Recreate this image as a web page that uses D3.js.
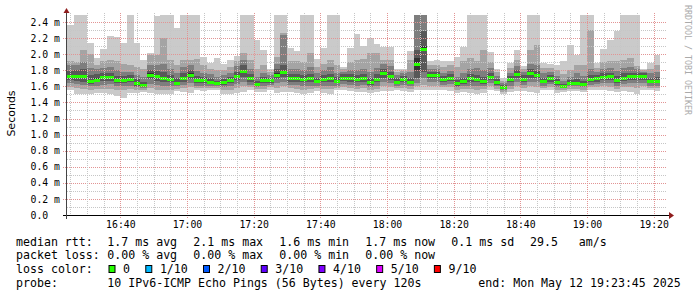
<!DOCTYPE html>
<meta charset="utf-8">
<style>
 body { margin: 0; background: #fff; }
 svg { display: block; }
 text { font-family: "DejaVu Sans Mono", monospace; fill: #000; }
 .axis text { font-size: 9.8px; }
 .legend text { font-size: 11.6px; white-space: pre; }
</style>
<body>
<div id="chart"></div>
<script src="https://cdn.jsdelivr.net/npm/d3@7/dist/d3.min.js"></script>
<script>
(function(){

  // 2 minute steps starting 16:24, 10 pings per step (sorted, ms)
  var start = new Date(2025, 4, 12, 16, 24);
  var end = new Date(2025, 4, 12, 19, 24);

  var medians = [
    1.725,1.725,1.725,1.667,1.683,1.716,1.716,1.675,1.68,1.696,
    1.64,1.62,1.745,1.725,1.708,1.69,1.646,1.71,1.745,1.675,
    1.675,1.66,1.636,1.655,1.68,1.73,1.79,1.70,1.63,1.675,
    1.675,1.745,1.78,1.70,1.705,1.69,1.70,1.667,1.69,1.70,
    1.67,1.71,1.70,1.69,1.705,1.655,1.69,1.77,1.73,1.66,
    1.69,1.66,1.875,2.07,1.737,1.737,1.69,1.71,1.64,1.667,
    1.70,1.69,1.667,1.72,1.655,1.59,1.69,1.755,1.695,1.76,
    1.74,1.667,1.70,1.65,1.605,1.64,1.645,1.63,1.69,1.70,
    1.716,1.725,1.68,1.71,1.725,1.73,1.73,1.67,1.67
  ];

  var pings = [
    [1.55,1.59,1.64,1.68,1.71,1.74,1.79,1.86,1.92,2.36],
    [1.50,1.58,1.63,1.67,1.71,1.74,1.80,1.86,1.90,2.60],
    [1.50,1.57,1.62,1.66,1.71,1.74,1.81,1.90,2.05,2.60],
    [1.50,1.56,1.60,1.63,1.65,1.68,1.74,1.83,2.00,2.14],
    [1.52,1.57,1.61,1.65,1.67,1.70,1.75,1.82,1.87,1.95],
    [1.52,1.57,1.62,1.67,1.70,1.73,1.77,1.83,1.91,2.06],
    [1.51,1.57,1.63,1.67,1.70,1.73,1.77,1.84,1.93,2.23],
    [1.48,1.56,1.60,1.64,1.66,1.69,1.73,1.80,1.91,2.21],
    [1.46,1.55,1.60,1.64,1.67,1.69,1.73,1.78,1.88,2.14],
    [1.52,1.57,1.61,1.65,1.68,1.71,1.74,1.78,1.86,2.60],
    [1.52,1.56,1.59,1.61,1.63,1.65,1.69,1.74,1.84,2.14],
    [1.53,1.56,1.58,1.60,1.61,1.63,1.66,1.72,1.82,1.93],
    [1.52,1.58,1.63,1.69,1.73,1.76,1.80,1.86,1.99,2.01],
    [1.50,1.56,1.62,1.67,1.71,1.74,1.79,1.86,1.99,2.47],
    [1.50,1.56,1.61,1.66,1.69,1.72,1.78,1.88,2.20,2.60],
    [1.51,1.56,1.61,1.65,1.68,1.70,1.74,1.82,1.93,2.60],
    [1.54,1.57,1.60,1.62,1.64,1.66,1.70,1.76,1.86,2.32],
    [1.53,1.58,1.62,1.66,1.70,1.72,1.76,1.84,1.93,2.60],
    [1.52,1.59,1.64,1.69,1.73,1.76,1.80,1.86,1.93,2.60],
    [1.55,1.58,1.61,1.64,1.66,1.69,1.73,1.79,1.94,2.60],
    [1.54,1.58,1.61,1.64,1.66,1.69,1.72,1.76,1.86,1.97],
    [1.55,1.58,1.61,1.63,1.65,1.67,1.70,1.75,1.82,1.89],
    [1.55,1.58,1.60,1.62,1.63,1.645,1.67,1.72,1.80,1.95],
    [1.51,1.56,1.59,1.62,1.645,1.665,1.69,1.74,1.80,1.88],
    [1.50,1.56,1.60,1.64,1.67,1.69,1.72,1.77,1.84,1.93],
    [1.52,1.58,1.63,1.68,1.72,1.74,1.78,1.85,1.91,1.98],
    [1.53,1.60,1.66,1.72,1.78,1.80,1.86,1.93,2.01,2.60],
    [1.55,1.59,1.62,1.66,1.69,1.71,1.75,1.82,1.93,2.60],
    [1.53,1.57,1.59,1.61,1.62,1.64,1.67,1.72,1.81,2.18],
    [1.53,1.57,1.61,1.64,1.665,1.685,1.72,1.77,1.86,2.05],
    [1.56,1.59,1.62,1.64,1.665,1.685,1.71,1.74,1.78,1.82],
    [1.52,1.58,1.64,1.69,1.73,1.76,1.81,1.88,1.97,2.60],
    [1.53,1.60,1.66,1.72,1.77,1.79,1.87,2.24,2.26,2.60],
    [1.53,1.58,1.62,1.66,1.69,1.71,1.75,1.82,1.92,2.08],
    [1.52,1.57,1.62,1.66,1.695,1.715,1.75,1.81,1.91,2.04],
    [1.50,1.56,1.61,1.65,1.68,1.70,1.74,1.80,1.90,2.60],
    [1.52,1.57,1.61,1.65,1.69,1.71,1.75,1.84,2.02,2.60],
    [1.54,1.58,1.61,1.64,1.655,1.68,1.71,1.76,1.84,1.94],
    [1.52,1.57,1.61,1.65,1.68,1.70,1.74,1.80,1.88,2.08],
    [1.51,1.57,1.61,1.65,1.69,1.71,1.75,1.84,1.93,2.60],
    [1.55,1.58,1.61,1.64,1.66,1.68,1.72,1.77,1.86,2.60],
    [1.55,1.59,1.63,1.67,1.70,1.72,1.75,1.78,1.81,1.845],
    [1.54,1.58,1.62,1.66,1.69,1.71,1.75,1.80,1.90,2.08],
    [1.53,1.57,1.61,1.65,1.68,1.70,1.74,1.80,1.93,2.25],
    [1.53,1.58,1.62,1.66,1.695,1.715,1.75,1.82,1.94,2.10],
    [1.52,1.56,1.59,1.62,1.645,1.665,1.70,1.78,2.01,2.20],
    [1.53,1.57,1.61,1.65,1.68,1.70,1.75,1.83,2.01,2.13],
    [1.54,1.60,1.66,1.71,1.76,1.78,1.82,1.88,1.93,2.09],
    [1.54,1.59,1.64,1.68,1.72,1.74,1.78,1.85,1.93,2.09],
    [1.55,1.58,1.61,1.63,1.65,1.67,1.70,1.74,1.78,1.82],
    [1.54,1.58,1.62,1.65,1.68,1.70,1.73,1.76,1.79,1.82],
    [1.53,1.57,1.60,1.63,1.65,1.67,1.71,1.78,1.93,2.04],
    [1.55,1.60,1.64,1.70,1.80,1.95,2.05,2.60,2.60,2.60],
    [1.56,1.62,1.70,1.78,2.04,2.10,2.29,2.60,2.60,2.60],
    [1.56,1.61,1.66,1.70,1.725,1.75,1.78,1.82,1.86,1.91],
    [1.55,1.60,1.65,1.70,1.725,1.75,1.78,1.82,1.87,1.93],
    [1.55,1.59,1.62,1.65,1.68,1.70,1.73,1.77,1.84,1.92],
    [1.54,1.59,1.63,1.67,1.70,1.72,1.75,1.79,1.86,1.91],
    [1.52,1.56,1.59,1.61,1.63,1.65,1.68,1.72,1.84,1.96],
    [1.53,1.57,1.60,1.63,1.655,1.68,1.71,1.77,1.92,2.09],
    [1.52,1.57,1.61,1.65,1.69,1.71,1.75,1.82,1.95,2.60],
    [1.51,1.56,1.61,1.65,1.68,1.70,1.74,1.83,1.92,2.60],
    [1.52,1.57,1.60,1.63,1.655,1.68,1.72,1.80,2.05,2.60],
    [1.55,1.60,1.64,1.68,1.71,1.73,1.77,1.83,1.90,2.03],
    [1.54,1.57,1.60,1.62,1.645,1.665,1.69,1.73,1.78,1.82],
    [1.50,1.53,1.55,1.57,1.58,1.60,1.62,1.64,1.67,1.70],
    [1.53,1.57,1.61,1.65,1.68,1.70,1.73,1.77,1.83,1.89],
    [1.54,1.60,1.66,1.71,1.745,1.765,1.80,1.85,1.93,2.05],
    [1.54,1.58,1.62,1.66,1.685,1.705,1.74,1.78,1.82,1.85],
    [1.53,1.60,1.66,1.71,1.75,1.77,1.81,1.88,2.05,2.60],
    [1.52,1.59,1.65,1.70,1.73,1.75,1.79,1.87,2.11,2.60],
    [1.55,1.58,1.61,1.64,1.655,1.68,1.71,1.76,1.83,1.89],
    [1.55,1.59,1.63,1.66,1.69,1.71,1.74,1.78,1.83,1.88],
    [1.52,1.56,1.59,1.62,1.64,1.66,1.69,1.73,1.80,1.87],
    [1.53,1.56,1.58,1.59,1.60,1.61,1.63,1.67,1.75,1.91],
    [1.54,1.57,1.60,1.62,1.63,1.65,1.68,1.72,1.80,2.11],
    [1.54,1.57,1.60,1.62,1.635,1.655,1.69,1.76,1.86,1.99],
    [1.53,1.56,1.59,1.61,1.62,1.64,1.67,1.73,1.86,2.60],
    [1.55,1.59,1.62,1.65,1.68,1.70,1.74,1.82,2.30,2.60],
    [1.55,1.59,1.63,1.66,1.69,1.71,1.74,1.78,1.83,1.89],
    [1.55,1.60,1.64,1.68,1.705,1.725,1.76,1.82,1.90,2.06],
    [1.54,1.59,1.64,1.68,1.715,1.735,1.77,1.83,1.91,2.18],
    [1.53,1.57,1.61,1.64,1.67,1.69,1.73,1.79,1.92,2.29],
    [1.54,1.59,1.63,1.67,1.70,1.72,1.76,1.83,1.93,2.60],
    [1.53,1.59,1.64,1.68,1.715,1.735,1.77,1.84,1.95,2.60],
    [1.51,1.58,1.64,1.68,1.72,1.74,1.77,1.81,1.85,2.60],
    [1.55,1.60,1.64,1.68,1.72,1.74,1.76,1.78,1.80,1.81],
    [1.55,1.58,1.61,1.64,1.66,1.68,1.71,1.76,1.81,1.89],
    [1.54,1.58,1.61,1.64,1.66,1.68,1.72,1.78,1.87,1.99]
  ];

  var yTicks = [0, 0.2, 0.4, 0.6, 0.8, 1.0, 1.2, 1.4, 1.6, 1.8, 2.0, 2.2, 2.4];
  var smokeGreys = ["#cacaca", "#a4a4a4", "#7e7e7e", "#585858", "#323232"];
  var lossColors = [["0", "#26ff00"], ["1/10", "#00b8ff"], ["2/10", "#0059ff"],
    ["3/10", "#5e00ff"], ["4/10", "#7e00ff"], ["5/10", "#dd00ff"], ["9/10", "#ff0000"]];
  var rttStats = ["1.7 ms avg", "2.1 ms max", "1.6 ms min", "1.7 ms now", "0.1 ms sd", "29.5   am/s"];
  var lossStats = ["0.00 % avg", "0.00 % max", "0.00 % min", "0.00 % now"];
  var probeText = "10 IPv6-ICMP Echo Pings (56 Bytes) every 120s";
  var endText = "end: Mon May 12 19:23:45 2025";

  var width = 697, height = 297;
  var left = 67, right = 667, top = 15, bottom = 215;

  var svg = d3.select("#chart").append("svg")
      .attr("width", width)
      .attr("height", height);

  var x = d3.scaleTime().domain([start, end]).range([left, right]);
  var y = d3.scaleLinear().domain([0, 2.4876]).range([bottom, top]);

  svg.append("clipPath").attr("id", "plot")
    .append("rect").attr("x", left).attr("y", top)
    .attr("width", right - left).attr("height", bottom - top);

  // smoke
  var cells = [];
  pings.forEach(function(p, i) {
    var t0 = d3.timeMinute.offset(start, 2 * i), t1 = d3.timeMinute.offset(start, 2 * i + 2);
    for (var k = 0; k < 5; k++) cells.push({t0: t0, t1: t1, lo: p[k], hi: p[9 - k], k: k});
  });

  var plot = svg.append("g").attr("clip-path", "url(#plot)").attr("shape-rendering", "crispEdges");

  plot.selectAll("rect.smoke").data(cells).enter()
    .append("rect")
      .attr("class", "smoke")
      .attr("x", function(d) { return Math.round(x(d.t0)); })
      .attr("width", function(d) { return Math.round(x(d.t1)) - Math.round(x(d.t0)); })
      .attr("y", function(d) { return Math.round(y(d.hi)); })
      .attr("height", function(d) { return Math.round(y(d.lo)) - Math.round(y(d.hi)); })
      .attr("fill", function(d) { return smokeGreys[d.k]; });

  plot.selectAll("rect.median").data(medians).enter()
    .append("rect")
      .attr("class", "median")
      .attr("x", function(d, i) { return Math.round(x(d3.timeMinute.offset(start, 2 * i))); })
      .attr("width", function(d, i) {
        return Math.round(x(d3.timeMinute.offset(start, 2 * i + 2))) - Math.round(x(d3.timeMinute.offset(start, 2 * i)));
      })
      .attr("y", function(d) { return Math.round(y(d)) - 1; })
      .attr("height", 3)
      .attr("fill", lossColors[0][1]);

  // grid
  var grid = svg.append("g").attr("fill", "none").attr("stroke-dasharray", "1,1");
  var ySub = d3.range(1, 25).map(function(v) { return v / 10; });
  grid.selectAll("line.h").data(ySub).enter()
    .append("line")
      .attr("x1", function(d, i) { return i % 2 ? 63 : left; })
      .attr("x2", right)
      .attr("y1", function(d) { return Math.round(y(d)) + 0.5; })
      .attr("y2", function(d) { return Math.round(y(d)) + 0.5; })
      .attr("stroke", function(d, i) { return i % 2 ? "#e29494" : "#c6c6c6"; });

  var xSub = d3.timeMinute.every(5).range(d3.timeMinute.offset(start, 1), end);
  grid.selectAll("line.v").data(xSub).enter()
    .append("line")
      .attr("x1", function(d) { return Math.round(x(d)) + 0.5; })
      .attr("x2", function(d) { return Math.round(x(d)) + 0.5; })
      .attr("y1", top - 2)
      .attr("y2", function(d) { return d.getMinutes() % 20 ? bottom : bottom + 3; })
      .attr("stroke", function(d) { return d.getMinutes() % 20 ? "#c6c6c6" : "#e29494"; });

  // axes
  var xAxis = svg.append("g").attr("class", "axis")
      .attr("transform", "translate(0," + bottom + ")")
      .call(d3.axisBottom(x)
        .ticks(d3.timeMinute.every(20))
        .tickFormat(d3.timeFormat("%H:%M"))
        .tickSize(0).tickPadding(6));
  xAxis.select(".domain").remove();

  var yAxis = svg.append("g").attr("class", "axis")
      .attr("transform", "translate(" + left + ",0)")
      .call(d3.axisLeft(y)
        .tickValues(yTicks)
        .tickFormat(function(d) { return d === 0 ? "0.0" : d3.format(".1f")(d) + " m"; })
        .tickSize(0));
  yAxis.select(".domain").remove();
  yAxis.selectAll("text").attr("text-anchor", "start").attr("x", 30.5 - left);

  svg.append("line").attr("x1", 63).attr("x2", 670).attr("y1", bottom + 0.5).attr("y2", bottom + 0.5)
    .attr("stroke", "#000");
  svg.append("line").attr("x1", 66.5).attr("x2", 66.5).attr("y1", bottom + 4).attr("y2", 12)
    .attr("stroke", "#444");
  svg.append("path").attr("d", "M669,212L674,215.5L669,219Z").attr("fill", "#8f1d1d");
  svg.append("path").attr("d", "M63.5,13L66.5,8L69.5,13Z").attr("fill", "#8f1d1d");

  svg.append("text")
      .attr("transform", "translate(15,113.5) rotate(-90)")
      .attr("text-anchor", "middle")
      .style("font-family", "'DejaVu Sans', sans-serif")
      .style("font-size", "11px")
      .text("Seconds");

  svg.append("text")
      .attr("transform", "translate(684.5,5) rotate(90)")
      .style("font-size", "8.3px")
      .style("fill", "#aaaaaa")
      .text("RRDTOOL / TOBI OETIKER");

  // legend
  var lg = svg.append("g").attr("class", "legend");
  var rows = [245.5, 259, 273, 286.5];
  var cols = [107.3, 193.3, 279.3, 365.3, 451.3, 530];
  var cw = 6.98;

  lg.append("text").attr("x", 16).attr("y", rows[0]).text("median rtt:");
  lg.selectAll("text.rtt").data(rttStats).enter().append("text")
    .attr("x", function(d, i) { return cols[i]; }).attr("y", rows[0]).text(function(d) { return d; });

  lg.append("text").attr("x", 16).attr("y", rows[1]).text("packet loss:");
  lg.selectAll("text.loss").data(lossStats).enter().append("text")
    .attr("x", function(d, i) { return cols[i]; }).attr("y", rows[1]).text(function(d) { return d; });

  lg.append("text").attr("x", 16).attr("y", rows[2]).text("loss color:");
  var bx = 108.5;
  lossColors.forEach(function(c) {
    lg.append("rect").attr("x", bx + 0.5).attr("y", rows[2] - 7.5).attr("width", 6).attr("height", 7)
      .attr("fill", c[1]).attr("stroke", "#000");
    lg.append("text").attr("x", bx + 14.6).attr("y", rows[2]).text(c[0]);
    bx = bx + 14.6 + c[0].length * cw + 15.2;
  });

  lg.append("text").attr("x", 16).attr("y", rows[3]).text("probe:");
  lg.append("text").attr("x", cols[0]).attr("y", rows[3]).text(probeText);
  lg.append("text").attr("x", 478.3).attr("y", rows[3]).text(endText);

})();
</script>
</body>
